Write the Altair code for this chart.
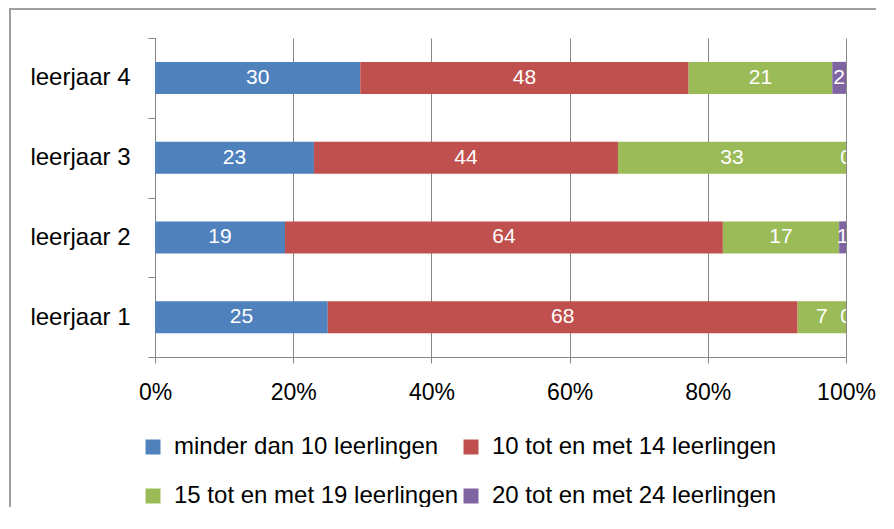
import altair as alt
import pandas as pd

categories = ["leerjaar 4", "leerjaar 3", "leerjaar 2", "leerjaar 1"]
groups = [
    "minder dan 10 leerlingen",
    "10 tot en met 14 leerlingen",
    "15 tot en met 19 leerlingen",
    "20 tot en met 24 leerlingen",
]
colors = ["#4F81BD", "#C0504D", "#9BBB59", "#8064A2"]

minder_dan_10 = [30, 23, 19, 25]
tot_14 = [48, 44, 64, 68]
tot_19 = [21, 33, 17, 7]
tot_24 = [2, 0, 1, 0]

series = [minder_dan_10, tot_14, tot_19, tot_24]
rows = []
for gi, (g, vals) in enumerate(zip(groups, series)):
    for c, v in zip(categories, vals):
        rows.append({"leerjaar": c, "groep": g, "order": gi, "value": v, "label": str(v)})
df = pd.DataFrame(rows)

# legend is laid out column-major, so list entries so rows read like the reference
legend_order = [groups[0], groups[2], groups[1], groups[3]]
legend_colors = [colors[0], colors[2], colors[1], colors[3]]

FONT = "Liberation Sans"
GRAY = "#868686"

base = alt.Chart(df).transform_stack(
    stack="value",
    as_=["x0", "x1"],
    groupby=["leerjaar"],
    offset="normalize",
    sort=[alt.SortField("order", order="ascending")],
).transform_calculate(mid="(datum.x0 + datum.x1) / 2")

yenc = alt.Y(
    "leerjaar:N",
    sort=categories,
    scale=alt.Scale(paddingInner=0, paddingOuter=0),
    axis=alt.Axis(
        title=None,
        domainColor=GRAY,
        tickColor=GRAY,
        tickSize=7,
        labelPadding=18,
        tickBand="extent",
        labelFontSize=24,
        labelFont=FONT,
        labelColor="#000000",
    ),
)

bars = base.mark_bar(size=32).encode(
    x=alt.X(
        "x0:Q",
        scale=alt.Scale(domain=[0, 1], nice=False),
        axis=alt.Axis(
            title=None,
            values=[0, 0.2, 0.4, 0.6, 0.8, 1.0],
            format=".0%",
            grid=True,
            gridColor=GRAY,
            domainColor=GRAY,
            tickColor=GRAY,
            tickSize=6,
            labelPadding=18,
            labelFlush=False,
            labelFontSize=23,
            labelFont=FONT,
            labelColor="#000000",
        ),
    ),
    x2="x1:Q",
    y=yenc,
    color=alt.Color(
        "groep:N",
        sort=legend_order,
        scale=alt.Scale(domain=legend_order, range=legend_colors),
        legend=alt.Legend(
            title=None,
            orient="none",
            legendX=-14,
            legendY=397,
            columns=2,
            symbolType="square",
            symbolSize=225,
            symbolStrokeWidth=0,
            labelFontSize=24,
            labelFont=FONT,
            labelColor="#000000",
            labelOffset=9,
            columnPadding=0,
            rowPadding=25,
            padding=0,
            labelLimit=400,
        ),
    ),
)

texts = base.mark_text(
    color="white", fontSize=21, font=FONT, baseline="middle", align="center", clip=True
).encode(
    x=alt.X("mid:Q"),
    y=alt.Y("leerjaar:N", sort=categories),
    text="label:N",
)

frame = alt.Chart(pd.DataFrame({"f": [0]})).mark_rect(
    fill=None, stroke="#A0A0A0", strokeWidth=2, clip=False
).encode(
    x=alt.value(-145), x2=alt.value(900), y=alt.value(-29), y2=alt.value(700)
)

chart = alt.layer(bars, texts, frame).properties(
    width=691,
    height=319,
    autosize=alt.AutoSizeParams(type="none"),
    padding={"left": 147, "top": 30, "right": 30, "bottom": 150},
).configure_view(stroke=None)

chart.save("out.html", embed_options={"renderer": "svg", "actions": False})
